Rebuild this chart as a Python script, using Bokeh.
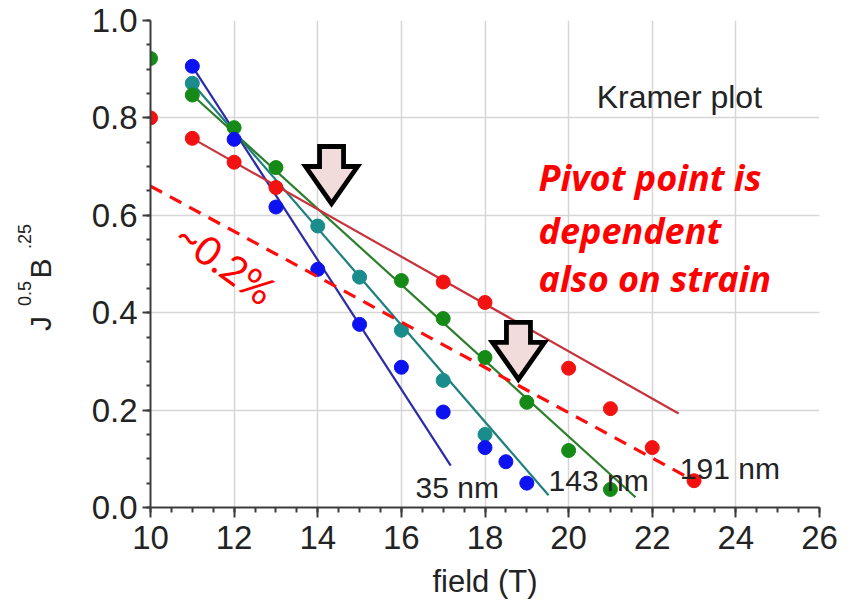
import math

from bokeh.plotting import figure
from bokeh.layouts import row
from bokeh.models import (Label, FixedTicker, SingleIntervalTicker,
                          PrintfTickFormatter, ColumnDataSource, Range1d)
from bokeh.embed import file_html
from bokeh.resources import INLINE

# ---------------------------------------------------------------------------
# Kramer plot: J^0.5 B^0.25 against applied field for several film thicknesses
# ---------------------------------------------------------------------------
blue_field = [11, 12, 13, 14, 15, 16, 17, 18, 18.5, 19]
blue_kramer = [0.906, 0.756, 0.617, 0.489, 0.376, 0.288, 0.196, 0.123, 0.094, 0.050]

teal_field = [11, 14, 15, 16, 17, 18]
teal_kramer = [0.871, 0.578, 0.473, 0.364, 0.261, 0.150]

green_field = [10, 11, 12, 13, 16, 17, 18, 19, 20, 21]
green_kramer = [0.922, 0.847, 0.780, 0.698, 0.466, 0.388, 0.308, 0.216, 0.117, 0.037]

red_field = [10, 11, 12, 13, 17, 18, 20, 21, 22, 23]
red_kramer = [0.800, 0.758, 0.709, 0.657, 0.463, 0.421, 0.286, 0.203, 0.123, 0.055]

# linear extrapolations to the irreversibility field (blue, teal, green, red)
fit_start_field = [11, 11, 11, 11]
fit_start_kramer = [0.906, 0.871, 0.847, 0.758]
fit_end_field = [17.18, 19.52, 21.6, 22.63]
fit_end_kramer = [0.086, 0.025, 0.021, 0.193]

# shifted reference line (strain offset)
offset_field = [10, 23]
offset_kramer = [0.66, 0.055]

# pivot-point markers (arrow tips)
arrow_tip_field = [14.33, 18.8]
arrow_tip_kramer = [0.616, 0.255]

series_names = ["35 nm", "143 nm", "191 nm"]
series_label_field = [16.34, 19.52, 22.66]
series_label_kramer = [0.041, 0.055, 0.080]

x_ticks = [10, 12, 14, 16, 18, 20, 22, 24, 26]
y_ticks = [0.0, 0.2, 0.4, 0.6, 0.8, 1.0]

# ---------------------------------------------------------------------------
TOTAL_W, TOTAL_H = 852, 604
TITLE_W = 60                      # strip that carries the rotated y title
X_RANGE = (10, 26)
Y_RANGE = (0.0, 1.0)
FRAME_W, FRAME_H = 669, 487
LEFT, RIGHT, TOP, BOTTOM = 150 - TITLE_W, 33, 20, 97
PX_X = FRAME_W / (X_RANGE[1] - X_RANGE[0])
PX_Y = FRAME_H / (Y_RANGE[1] - Y_RANGE[0])

AXIS_FONT = "Liberation Sans"
INK = "#232323"

p = figure(frame_width=FRAME_W, frame_height=FRAME_H,
           x_range=X_RANGE, y_range=Y_RANGE,
           min_border_left=LEFT, min_border_right=RIGHT,
           min_border_top=TOP, min_border_bottom=BOTTOM,
           output_backend="svg", toolbar_location=None)
p.frame_align = False
p.outline_line_color = None
p.background_fill_color = "white"
p.border_fill_color = "white"

# axes
p.xaxis.ticker = SingleIntervalTicker(interval=2, num_minor_ticks=4)
p.yaxis.ticker = SingleIntervalTicker(interval=0.2, num_minor_ticks=4)
p.yaxis.formatter = PrintfTickFormatter(format="%.1f")
for ax in (p.xaxis[0], p.yaxis[0]):
    ax.axis_line_color = "#3c3c3c"
    ax.axis_line_width = 2
    ax.major_tick_line_color = "#3c3c3c"
    ax.minor_tick_line_color = "#3c3c3c"
    ax.major_tick_line_width = 2
    ax.minor_tick_line_width = 2
    ax.major_tick_in = 0
    ax.minor_tick_in = 0
    ax.major_label_text_font = AXIS_FONT
    ax.major_label_text_font_size = "33px"
    ax.major_label_text_color = INK
p.xaxis.major_tick_out = 10
p.xaxis.minor_tick_out = 5
p.yaxis.major_tick_out = 8
p.yaxis.minor_tick_out = 4
p.xaxis.major_label_standoff = 8
p.yaxis.major_label_standoff = 5

p.xaxis.axis_label = "field (T)"
p.xaxis.axis_label_text_font = AXIS_FONT
p.xaxis.axis_label_text_font_size = "31px"
p.xaxis.axis_label_text_font_style = "normal"
p.xaxis.axis_label_text_color = INK
p.xaxis.axis_label_standoff = 12

# grid
p.xgrid.ticker = FixedTicker(ticks=x_ticks[1:-1])
p.ygrid.ticker = FixedTicker(ticks=y_ticks[1:-1])
for g in (p.xgrid[0], p.ygrid[0]):
    g.grid_line_color = "#d6d6d6"
    g.grid_line_width = 1.5

# fitted lines
fits = ColumnDataSource(dict(
    x0=fit_start_field, y0=fit_start_kramer,
    x1=fit_end_field, y1=fit_end_kramer,
    color=["#2b2ba6", "#1f7f7f", "#2c7d2c", "#c8323c"],
))
p.segment(x0="x0", y0="y0", x1="x1", y1="y1", line_color="color",
          line_width=2.2, source=fits)

# data points
for fx, fy, col in [(teal_field, teal_kramer, "#1a8c8c"),
                    (green_field, green_kramer, "#168a16"),
                    (red_field, red_kramer, "#f21212"),
                    (blue_field, blue_kramer, "#0d12f0")]:
    p.scatter(fx, fy, size=14, fill_color=col, line_color=col)

# strain-shifted reference line
p.line(offset_field, offset_kramer, line_color="#ff0d0d", line_width=3.2,
       line_dash="13 9")

# block arrows pointing at the pivot points (shape in pixels, tip at origin)
arrow_shape_px = [(0, 4), (-26, 41), (-12, 41), (-12, 61),
                  (12, 61), (12, 41), (26, 41)]
arrow_xs, arrow_ys = [], []
for tx, ty in zip(arrow_tip_field, arrow_tip_kramer):
    arrow_xs.append([tx + dx / PX_X for dx, _ in arrow_shape_px])
    arrow_ys.append([ty + dy / PX_Y for _, dy in arrow_shape_px])
p.patches(arrow_xs, arrow_ys, fill_color="#f2dcdb", line_color="black",
          line_width=4.8, line_join="miter")

# text annotations
for name, lx, ly in zip(series_names, series_label_field, series_label_kramer):
    p.add_layout(Label(x=lx, y=ly, text=name, text_font=AXIS_FONT,
                       text_font_size="30px", text_color=INK,
                       text_align="left", text_baseline="alphabetic"))

p.add_layout(Label(x=20.67, y=0.842, text="Kramer plot", text_font=AXIS_FONT,
                   text_font_size="32px", text_color=INK,
                   text_align="left", text_baseline="alphabetic"))

for line, ly in zip(["Pivot point is", "dependent", "also on strain"],
                    [0.678, 0.569, 0.470]):
    p.add_layout(Label(x=19.28, y=ly, text=line, text_font="Open Sans",
                       text_font_size="36px", text_font_style="bold italic",
                       text_color="#ff0000", text_align="left",
                       text_baseline="alphabetic"))

p.add_layout(Label(x=11.79, y=0.503, text="~0.2%", text_font="Lato",
                   text_font_size="40px", text_color="#ff0000",
                   angle=-36, angle_units="deg",
                   text_align="center", text_baseline="middle"))

# ---------------------------------------------------------------------------
# y title J^0.5 B^.25 drawn as rotated text in a narrow strip (pixel units);
# each piece is placed by its centre, measured from the strip's top-left
# ---------------------------------------------------------------------------
title_text = ["J", "0.5", "B", ".25"]
title_size = ["30px", "18px", "30px", "18px"]
title_center_x = [40, 24, 40, 24]
title_center_y = [323, 293, 268, 236]

t = figure(width=TITLE_W, height=TOTAL_H,
           x_range=Range1d(0, TITLE_W), y_range=Range1d(0, TOTAL_H),
           min_border=0, x_axis_location=None, y_axis_location=None,
           output_backend="svg", toolbar_location=None)
t.frame_align = False
t.outline_line_color = None
t.grid.visible = False
t.background_fill_color = "white"
t.border_fill_color = "white"
for txt, size, cx, cy in zip(title_text, title_size, title_center_x,
                             title_center_y):
    t.add_layout(Label(x=cx, y=TOTAL_H - cy, text=txt, text_font=AXIS_FONT,
                       text_font_size=size, text_color=INK,
                       angle=90, angle_units="deg",
                       text_align="center", text_baseline="middle"))

layout = row(t, p, spacing=0)
open("out.html", "w").write(file_html(layout, INLINE))
